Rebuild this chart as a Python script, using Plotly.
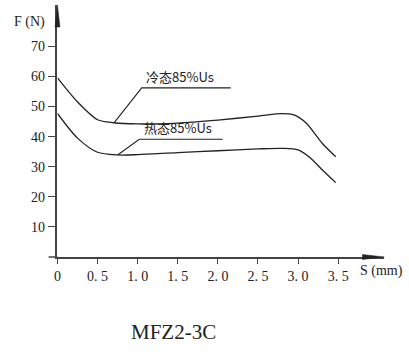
import plotly.graph_objects as go

# ---- data ----
S_cold = [0, 0.25, 0.5, 0.7, 1.0, 1.5, 2.0, 2.5, 2.8, 2.95, 3.1, 3.3, 3.47]
F_cold = [59.5, 51.5, 45.6, 44.6, 44.2, 44.5, 45.5, 46.8, 47.6, 47.2, 44.5, 37.8, 33.3]

S_hot = [0, 0.25, 0.5, 0.75, 1.0, 1.5, 2.0, 2.5, 2.8, 3.0, 3.15, 3.3, 3.47]
F_hot = [47.7, 39.5, 34.8, 33.9, 34.0, 34.7, 35.3, 35.9, 36.1, 35.6, 33.0, 29.0, 24.7]

lead_cold_S = [0.71, 1.05, 2.16]
lead_cold_F = [44.7, 56.2, 56.2]
lead_hot_S = [0.75, 1.02, 2.06]
lead_hot_F = [33.9, 39.1, 39.1]

label_cold = "冷态85%Us"
label_hot = "热态85%Us"

x_ticks = [0, 0.5, 1.0, 1.5, 2.0, 2.5, 3.0, 3.5]
x_ticktext = ["0", "0. 5", "1. 0", "1. 5", "2. 0", "2. 5", "3. 0", "3. 5"]
y_ticks = [10, 20, 30, 40, 50, 60, 70]
y_ticktext = ["10", "20", "30", "40", "50", "60", "70"]

title_text = "MFZ2-3C"
x_title = "S (mm)"
y_title = "F (N)"

# ---- layout geometry (pixels) ----
W, H = 409, 355
x0_px, x1_px = 54, 384
y0_px, y1_px = 257, 5
px_per_unit_x = 81.0
px_per_unit_y = 3.01

def px(xp):
    return xp / W

def py(yp):
    return (H - yp) / H

line_col = "#222222"
axis_col = "#444444"
serif = "Liberation Serif, DejaVu Serif, serif"
cjk = "Noto Sans CJK SC, Liberation Serif, serif"

fig = go.Figure()
for xs, ys in ((S_cold, F_cold), (S_hot, F_hot)):
    fig.add_trace(go.Scatter(x=xs, y=ys, mode="lines",
                             line=dict(color=line_col, width=1.3, shape="spline", smoothing=0.8),
                             hoverinfo="skip", showlegend=False))
for xs, ys in ((lead_cold_S, lead_cold_F), (lead_hot_S, lead_hot_F)):
    fig.add_trace(go.Scatter(x=xs, y=ys, mode="lines",
                             line=dict(color=line_col, width=1.1),
                             hoverinfo="skip", showlegend=False))

fig.add_annotation(x=lead_cold_S[1] + 0.03, y=lead_cold_F[1], text=label_cold,
                   xanchor="left", yanchor="bottom", showarrow=False,
                   font=dict(family=cjk, size=13, color=line_col))
fig.add_annotation(x=lead_hot_S[1] + 0.03, y=lead_hot_F[1], text=label_hot,
                   xanchor="left", yanchor="bottom", showarrow=False,
                   font=dict(family=cjk, size=13, color=line_col))

# axis titles and chart title
fig.add_annotation(xref="paper", yref="paper", x=px(26), y=py(22), text=y_title,
                   xanchor="center", yanchor="middle",
                   showarrow=False, font=dict(family=serif, size=14, color=line_col))
fig.add_annotation(xref="paper", yref="paper", x=px(381), y=py(271), text=x_title,
                   xanchor="center", yanchor="middle",
                   showarrow=False, font=dict(family=serif, size=14, color=line_col))
fig.add_annotation(xref="paper", yref="paper", x=px(171), y=py(332), text=title_text,
                   xanchor="center", yanchor="middle",
                   showarrow=False, font=dict(family=serif, size=21, color=line_col))

# arrowheads on the axes and the short stub of the x axis left of the origin
def tri(points):
    return "M " + " L ".join(f"{px(a):.5f},{py(b):.5f}" for a, b in points) + " Z"

fig.add_shape(type="path", xref="paper", yref="paper",
              path=tri([(x1_px, y0_px), (x1_px - 22, y0_px - 2.5), (x1_px - 22, y0_px + 2.5)]),
              fillcolor=line_col, line=dict(color=line_col, width=0.5))
fig.add_shape(type="path", xref="paper", yref="paper",
              path=tri([(x0_px, y1_px), (x0_px - 2.5, y1_px + 22), (x0_px + 2.5, y1_px + 22)]),
              fillcolor=line_col, line=dict(color=line_col, width=0.5))
fig.add_shape(type="line", xref="paper", yref="paper",
              x0=px(x0_px - 9), x1=px(x0_px), y0=py(y0_px), y1=py(y0_px),
              line=dict(color=axis_col, width=1.5))

x_range = [0, (x1_px - x0_px) / px_per_unit_x]
y_range = [0, (y0_px - y1_px) / px_per_unit_y]

fig.update_layout(
    width=W, height=H,
    margin=dict(l=0, r=0, t=0, b=0),
    paper_bgcolor="white", plot_bgcolor="white",
    xaxis=dict(domain=[px(x0_px), px(x1_px)], range=x_range, showgrid=False, zeroline=False,
               showline=True, linecolor=axis_col, linewidth=1.5,
               ticks="outside", ticklen=5, tickwidth=1, tickcolor=axis_col,
               tickvals=x_ticks, ticktext=x_ticktext,
               tickfont=dict(family=serif, size=14, color=line_col), fixedrange=True),
    yaxis=dict(domain=[py(y0_px), py(y1_px)], range=y_range, showgrid=False, zeroline=False,
               showline=True, linecolor=axis_col, linewidth=1.5,
               ticks="outside", ticklen=8, tickwidth=1, tickcolor=axis_col,
               tickvals=y_ticks, ticktext=y_ticktext,
               tickfont=dict(family=serif, size=14, color=line_col), fixedrange=True),
)

fig.write_html("out.html", config={"displayModeBar": False},
               post_script="document.body.style.margin='0';")
